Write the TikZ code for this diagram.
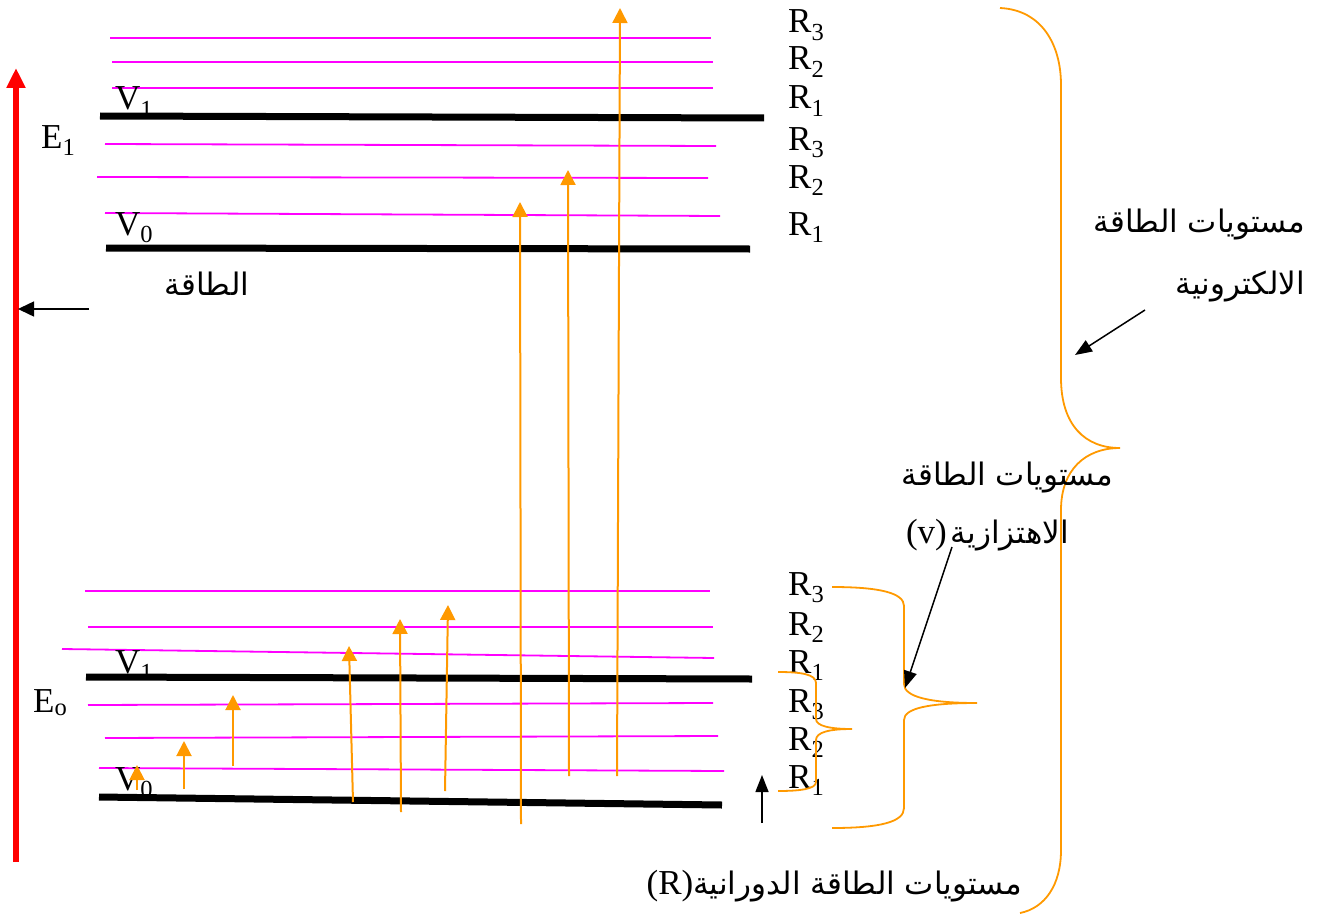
\documentclass[tikz,border=0pt]{standalone}
\usepackage{fontspec}
\setmainfont{Liberation Serif}
\newfontfamily\arabicfont[Script=Arabic]{DejaVu Sans}
\TeXXeTstate=1
\usetikzlibrary{arrows.meta}
\definecolor{mag}{RGB}{255,0,255}
\definecolor{orng}{RGB}{255,153,0}
\definecolor{rd}{RGB}{255,0,0}
\begin{document}
\begin{tikzpicture}[x=1pt,y=-1pt,
 lvl/.style={line width=7pt},
 rot/.style={mag,line width=1.8pt},
 exc/.style={orng,line width=2pt,-{Triangle[width=15pt,length=15pt]}},
 brc/.style={orng,line width=1.8pt},
 ptr/.style={black,line width=1.5pt,-{Triangle[width=13pt,length=17pt]}},
 lbl/.style={font=\fontsize{35}{40}\selectfont,inner sep=0pt,anchor=base west},
 ar/.style={font=\fontsize{31}{36}\selectfont\arabicfont,inner sep=0pt}]
\useasboundingbox (0,0) rectangle (1319,915);

% energy axis
\coordinate (axB) at (16,862);
\coordinate (axT) at (16,68);
\draw[rd,line width=6pt,-{Triangle[width=18pt,length=20pt]}] (axB) -- (axT);
\coordinate (enP) at (89,309);
\coordinate (enT) at (18,309);
\draw[black,line width=1.5pt,-{Triangle[width=15pt,length=16pt]}] (enP) -- (enT);
\node[ar] (energy) at (207,284) {\beginR الطاقة\endR};

% upper electronic state E1
\draw[rot] (110,38) -- (711,38);
\draw[rot] (112,62) -- (713,62);
\draw[rot] (112,88) -- (713,88);
\draw[lvl] (100,116) -- (764,118);
\draw[rot] (105,144) -- (716,146);
\draw[rot] (97,177) -- (708,178);
\draw[rot] (105,213) -- (720,216);
\draw[lvl] (106,248) -- (750,249);

\node[lbl] (vA) at (115,110) {V\textsubscript{1}};
\node[lbl] (vB) at (115,235) {V\textsubscript{0}};
\node[lbl] (e1) at (41,148) {E\textsubscript{1}};

\node[lbl] (ra3) at (788,33) {R\textsubscript{3}};
\node[lbl] (ra2) at (788,70) {R\textsubscript{2}};
\node[lbl] (ra1) at (788,109) {R\textsubscript{1}};
\node[lbl] (rb3) at (788,150) {R\textsubscript{3}};
\node[lbl] (rb2) at (788,188) {R\textsubscript{2}};
\node[lbl] (rb1) at (788,235) {R\textsubscript{1}};

% lower electronic state E0
\draw[rot] (85,591) -- (710,591);
\draw[rot] (88,627) -- (713,627);
\draw[rot] (62,649) -- (714,658);
\draw[lvl] (86,677) -- (752,679);
\draw[rot] (88,705) -- (713,703);
\draw[rot] (105,738) -- (718,736);
\draw[rot] (99,768) -- (724,771);
\draw[lvl] (99,797) -- (722,805);

\node[lbl] (vC) at (115,673) {V\textsubscript{1}};
\node[lbl] (vD) at (115,790) {V\textsubscript{0}};
\node[lbl] (e0) at (33,712) {E\textsubscript{o}};

\node[lbl] (rc3) at (788,595) {R\textsubscript{3}};
\node[lbl] (rc2) at (788,635) {R\textsubscript{2}};
\node[lbl] (rc1) at (788,673) {R\textsubscript{1}};
\node[lbl] (rd3) at (788,712) {R\textsubscript{3}};
\node[lbl] (rd2) at (788,750) {R\textsubscript{2}};
\node[lbl] (rd1) at (788,788) {R\textsubscript{1}};

% electronic transitions
\coordinate (t1a) at (521,824); \coordinate (t1b) at (520,202);
\coordinate (t2a) at (569,776); \coordinate (t2b) at (568,170);
\coordinate (t3a) at (617,776); \coordinate (t3b) at (620,8);
\draw[exc] (t1a) -- (t1b);
\draw[exc] (t2a) -- (t2b);
\draw[exc] (t3a) -- (t3b);

% vibrational / rotational transitions
\coordinate (s1a) at (137,790); \coordinate (s1b) at (137,765);
\coordinate (s2a) at (184,789); \coordinate (s2b) at (184,741);
\coordinate (s3a) at (233,766); \coordinate (s3b) at (233,695);
\coordinate (s4a) at (353,802); \coordinate (s4b) at (349,646);
\coordinate (s5a) at (401,812); \coordinate (s5b) at (400,619);
\coordinate (s6a) at (445,791); \coordinate (s6b) at (448,605);
\foreach \i in {1,...,6} \draw[exc] (s\i a) -- (s\i b);

% big brace (electronic)
\draw[brc] (1000,8) .. controls (1042,10) and (1061,45) .. (1061,85)
  -- (1061,378) .. controls (1061,425) and (1085,448) .. (1120,448)
  .. controls (1085,448) and (1061,470) .. (1061,510)
  -- (1061,850) .. controls (1061,885) and (1045,908) .. (1020,913);
% medium brace (vibrational)
\draw[brc] (832,587) .. controls (880,587) and (904,593) .. (904,606)
  -- (904,684) .. controls (904,697) and (930,703) .. (977,703)
  .. controls (930,703) and (904,708) .. (904,720)
  -- (904,808) .. controls (904,822) and (880,828) .. (832,828);
% small brace (rotational)
\draw[brc] (778,672) .. controls (800,672) and (816,674) .. (816,683)
  -- (816,719) .. controls (816,726) and (830,729) .. (852,729)
  .. controls (830,729) and (816,732) .. (816,740)
  -- (816,782) .. controls (816,789) and (800,791) .. (778,791);

% annotations
\node[ar,anchor=east] (el1) at (1305,225) {\beginR مستويات الطاقة\endR};
\node[ar,anchor=east] (el2) at (1305,287) {\beginR الالكترونية\endR};
\coordinate (elP) at (1145,310); \coordinate (elT) at (1075,355);
\draw[ptr] (elP) -- (elT);

\node[ar,anchor=east] (vi1) at (1113,478) {\beginR مستويات الطاقة\endR};
\node[anchor=east,inner sep=0pt] (vi2) at (1069,535) {{\fontsize{35}{40}\selectfont(v)}\hspace{4pt}{\fontsize{31}{36}\selectfont\arabicfont\beginR الاهتزازية\endR}};
\coordinate (viP) at (952,547); \coordinate (viT) at (905,688);
\draw[ptr] (viP) -- (viT);

\coordinate (roP) at (762,823); \coordinate (roT) at (762,775);
\draw[ptr] (roP) -- (roT);
\node[anchor=east,inner sep=0pt] (ro) at (1022,886) {{\fontsize{35}{40}\selectfont(R)}{\fontsize{31}{36}\selectfont\arabicfont\beginR مستويات الطاقة الدورانية\endR}};
\end{tikzpicture}
\end{document}
